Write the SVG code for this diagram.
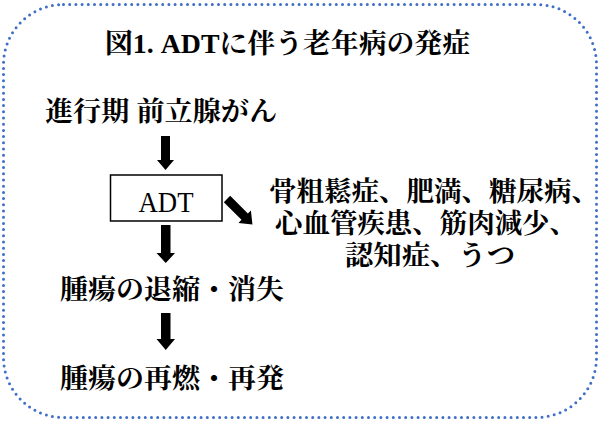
<svg xmlns="http://www.w3.org/2000/svg" width="600" height="423" viewBox="0 0 600 423">
<defs>
<style>
.t{font-family:"Liberation Serif","Noto Serif CJK JP","Noto Sans CJK JP",serif;font-weight:bold;font-size:27px;fill:#000}
.adt{font-family:"Liberation Serif","Noto Serif CJK JP",serif;font-weight:normal;font-size:30px;fill:#000}
.arr{fill:#000}
</style>
</defs>
<rect x="3.5" y="4.5" width="593" height="413" rx="60" ry="60" fill="none" stroke="#3F6FC6" stroke-width="3" stroke-linecap="round" stroke-dasharray="0 6.2"/>

<g id="title">
<text class="t" x="105" y="53" textLength="365" lengthAdjust="spacingAndGlyphs">図1. ADTに伴う老年病の発症</text>
</g>

<g id="node-cancer">
<text class="t" x="45" y="121" textLength="232" lengthAdjust="spacingAndGlyphs">進行期 前立腺がん</text>
</g>

<g id="node-adt">
<rect x="110.5" y="175" width="111.5" height="46" fill="#fff" stroke="#000" stroke-width="1.5"/>
<text class="adt" x="166" y="212" text-anchor="middle" textLength="55" lengthAdjust="spacingAndGlyphs">ADT</text>
</g>

<g id="node-diseases">
<text class="t" x="269" y="201" textLength="330" lengthAdjust="spacingAndGlyphs">骨粗鬆症、肥満、糖尿病、</text>
<text class="t" x="275" y="233" textLength="302" lengthAdjust="spacingAndGlyphs">心血管疾患、筋肉減少、</text>
<text class="t" x="345" y="265" textLength="170" lengthAdjust="spacingAndGlyphs">認知症、うつ</text>
</g>

<g id="node-regression">
<text class="t" x="60" y="299" textLength="224" lengthAdjust="spacingAndGlyphs">腫瘍の退縮・消失</text>
</g>

<g id="node-recurrence">
<text class="t" x="60" y="388" textLength="224" lengthAdjust="spacingAndGlyphs">腫瘍の再燃・再発</text>
</g>

<g id="connectors">
<polygon class="arr" points="161,136 170,136 170,160 174,160 165.5,170 157,160 161,160"/>
<polygon class="arr" points="161,225 170.5,225 170.5,253 175,253 165.75,263 156.5,253 161,253"/>
<polygon class="arr" points="161,313 170.5,313 170.5,339 175,339 165.75,350 156.5,339 161,339"/>
<polygon class="arr" transform="translate(227,199) rotate(-45)" points="-4.5,0 4.5,0 4.5,25 8.8,25 0,36 -8.8,25 -4.5,25"/>
</g>
</svg>
